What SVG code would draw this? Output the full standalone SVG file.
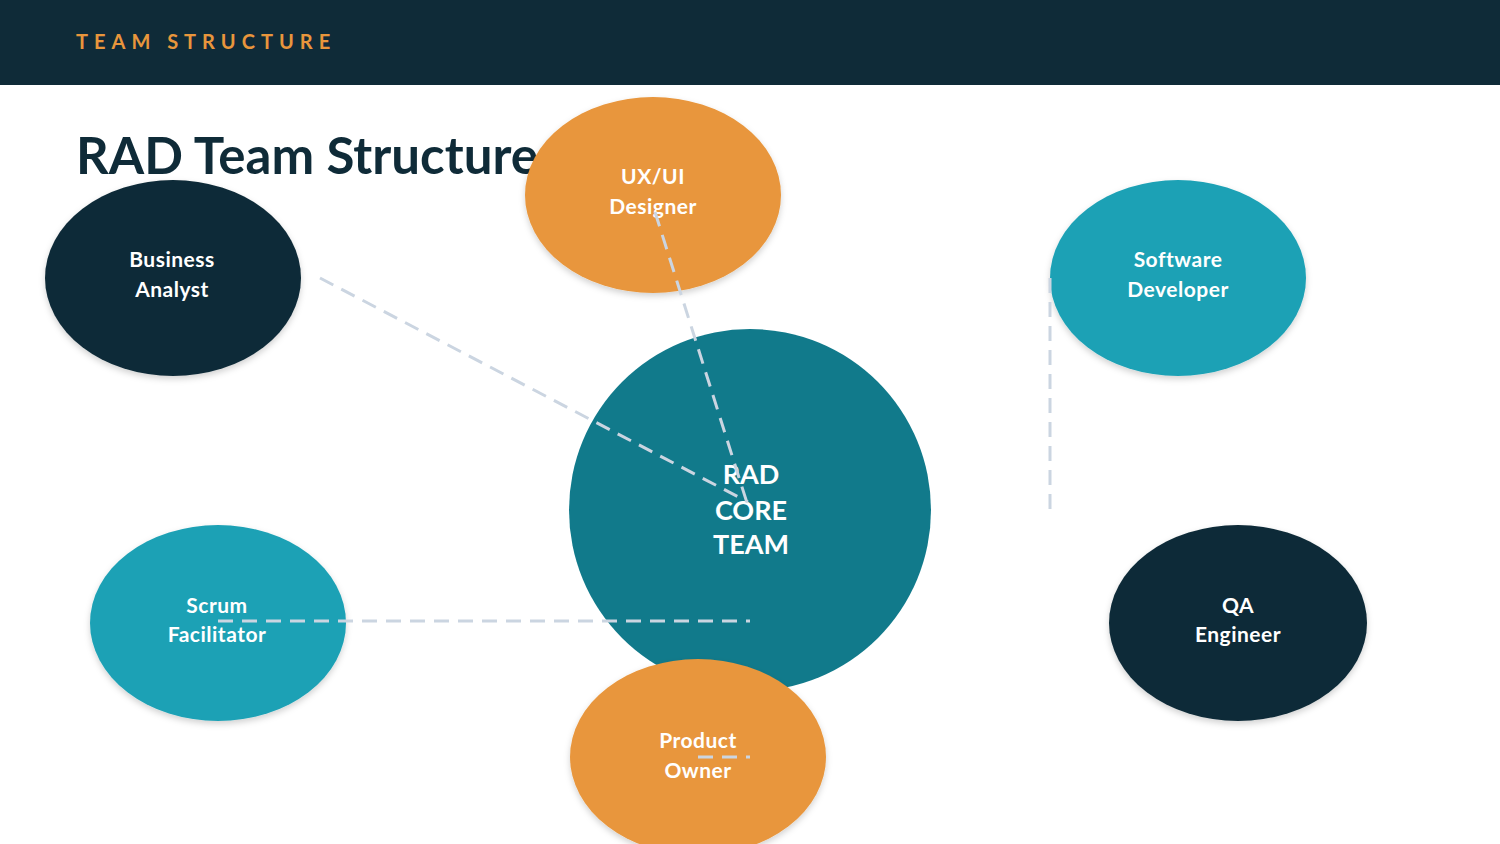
<svg xmlns="http://www.w3.org/2000/svg" width="1500" height="844" viewBox="0 0 1500 844">
<defs>
<filter id="sh" x="-10%" y="-10%" width="120%" height="125%">
<feDropShadow dx="0" dy="3" stdDeviation="3" flood-color="#000" flood-opacity="0.18"/>
</filter>
<style>
.lbl{font-family:Lato,"Open Sans","Liberation Sans",sans-serif;font-weight:700;font-size:21px;fill:#fff;text-anchor:middle;letter-spacing:0.5px}
.core{font-family:Lato,"Open Sans","Liberation Sans",sans-serif;font-weight:700;font-size:27px;fill:#fff;text-anchor:middle}
.dash{stroke:#CBD5E1;stroke-width:3;stroke-dasharray:15 9;fill:none}
.navy{fill:#0F2B38}
.orange{fill:#E8963C}
.teal{fill:#1DA1B5}
</style>
</defs>
<rect x="0" y="0" width="1500" height="844" fill="#fff"/>
<rect x="0" y="0" width="1500" height="85" fill="#0F2B38"/>
<text x="76" y="49" font-family="Lato,'Open Sans','Liberation Sans',sans-serif" font-weight="700" font-size="20" fill="#E8963C" letter-spacing="6">TEAM STRUCTURE</text>
<text x="76" y="174" font-family="Lato,'Open Sans','Liberation Sans',sans-serif" font-weight="700" font-size="51" fill="#0F2B38">RAD Team Structure</text>

<g id="core">
<circle cx="750" cy="510" r="181" fill="#117A8B"/>
<text class="core" x="751" y="484">RAD</text>
<text class="core" x="751" y="520">CORE</text>
<text class="core" x="751" y="554">TEAM</text>
</g>
<g id="business-analyst">
<ellipse cx="173" cy="278" rx="128" ry="98" class="navy" filter="url(#sh)"/>
<text class="lbl" x="172" y="267">Business</text>
<text class="lbl" x="172" y="297">Analyst</text>
</g>
<g id="ux-ui-designer">
<ellipse cx="653" cy="195" rx="128" ry="98" class="orange" filter="url(#sh)"/>
<text class="lbl" x="653" y="184">UX/UI</text>
<text class="lbl" x="653" y="214">Designer</text>
</g>
<g id="software-developer">
<ellipse cx="1178" cy="278" rx="128" ry="98" class="teal" filter="url(#sh)"/>
<text class="lbl" x="1178" y="267">Software</text>
<text class="lbl" x="1178" y="297">Developer</text>
</g>
<g id="scrum-facilitator">
<ellipse cx="218" cy="623" rx="128" ry="98" class="teal" filter="url(#sh)"/>
<text class="lbl" x="217" y="613">Scrum</text>
<text class="lbl" x="217" y="642">Facilitator</text>
</g>
<g id="qa-engineer">
<ellipse cx="1238" cy="623" rx="129" ry="98" class="navy" filter="url(#sh)"/>
<text class="lbl" x="1238" y="613">QA</text>
<text class="lbl" x="1238" y="642">Engineer</text>
</g>
<g id="product-owner">
<ellipse cx="698" cy="757" rx="128" ry="98" class="orange" filter="url(#sh)"/>
<text class="lbl" x="698" y="748">Product</text>
<text class="lbl" x="698" y="778">Owner</text>
</g>

<g id="connectors">
<line class="dash" x1="320" y1="278" x2="748" y2="502"/>
<line class="dash" x1="655" y1="212" x2="748" y2="506"/>
<line class="dash" x1="1050" y1="278" x2="1050" y2="510"/>
<line class="dash" x1="218" y1="621" x2="750" y2="621"/>
<line class="dash" x1="698" y1="757" x2="750" y2="757"/>
</g>
</svg>
